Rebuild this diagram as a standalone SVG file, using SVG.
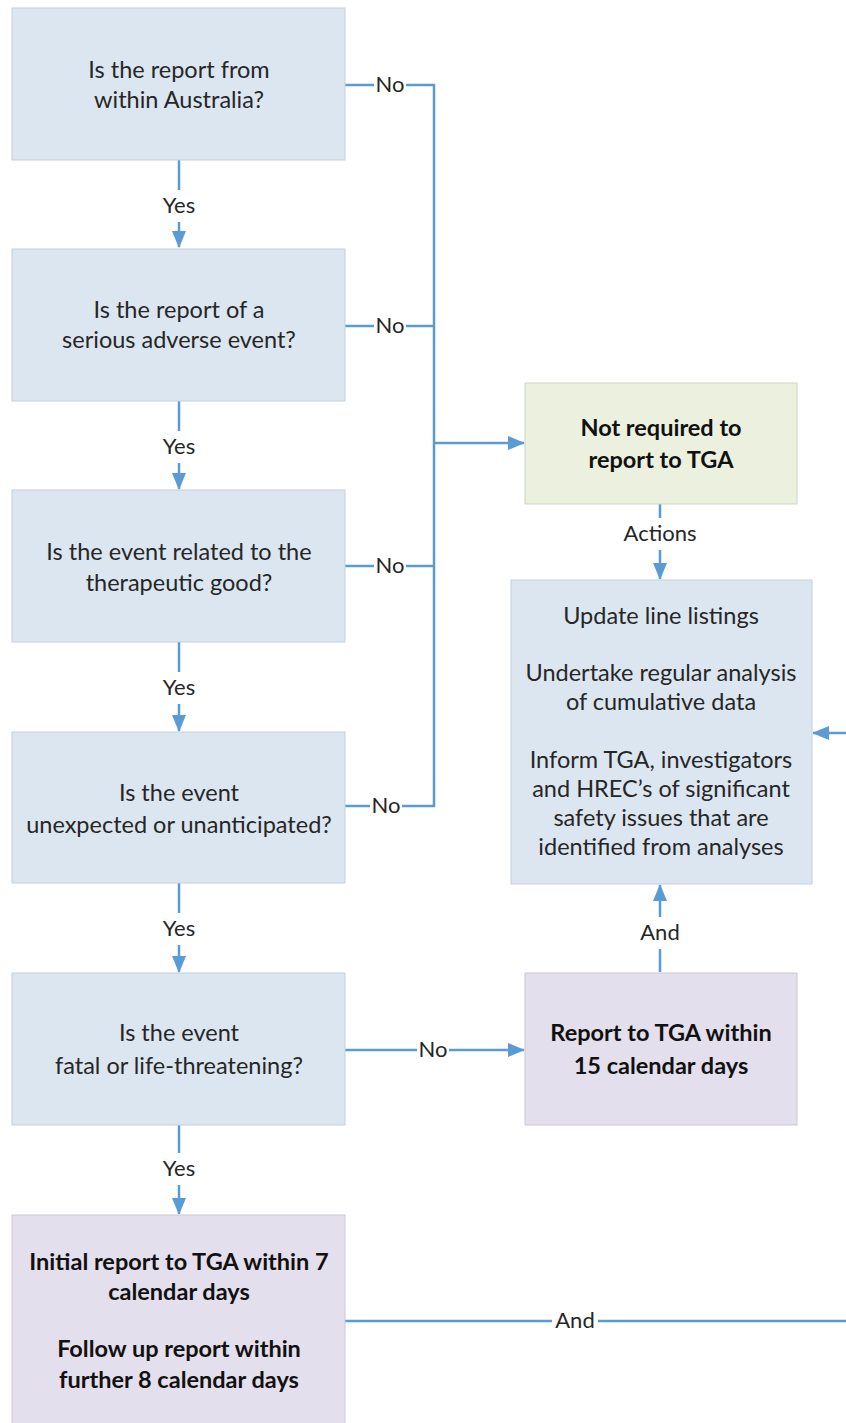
<svg xmlns="http://www.w3.org/2000/svg" width="846" height="1423" viewBox="0 0 846 1423">
<style>
.q{fill:#dce6f1;stroke:#c5d0dc;stroke-width:1}
.g{fill:#ebf1de;stroke:#cdd5c0;stroke-width:1}
.p{fill:#e4dfec;stroke:#cbc6d6;stroke-width:1}
text{font-family:Lato,"Open Sans","Liberation Sans",sans-serif;font-size:23.5px;fill:#262626;text-anchor:middle}
.b{font-weight:bold;fill:#111}
.c{fill:none;stroke:#5b9bd5;stroke-width:2.5}
.lb{fill:#fff}
.l{font-size:22px}
</style>
<defs>
<marker id="ah" markerUnits="userSpaceOnUse" markerWidth="18" markerHeight="16" refX="16" refY="8" orient="auto">
<path d="M0,1 L17,8 L0,15 Z" fill="#5b9bd5"/>
</marker>
</defs>
<g id="connectors">
<path class="c" d="M179,160 V247" marker-end="url(#ah)"/>
<path class="c" d="M179,401 V489" marker-end="url(#ah)"/>
<path class="c" d="M179,642 V731" marker-end="url(#ah)"/>
<path class="c" d="M179,883 V972" marker-end="url(#ah)"/>
<path class="c" d="M179,1125 V1214" marker-end="url(#ah)"/>
<path class="c" d="M345,85 H434 V806 H345"/>
<path class="c" d="M345,326 H434"/>
<path class="c" d="M345,566 H434"/>
<path class="c" d="M434,443 H524" marker-end="url(#ah)"/>
<path class="c" d="M345,1050 H524" marker-end="url(#ah)"/>
<path class="c" d="M660,504 V579" marker-end="url(#ah)"/>
<path class="c" d="M660,972 V885" marker-end="url(#ah)"/>
<path class="c" d="M345,1321 H846"/>
<path class="c" d="M846,733 H813" marker-end="url(#ah)"/>
<rect class="lb" x="159" y="190" width="40" height="32"/>
<text class="l" x="179" y="213">Yes</text>
<rect class="lb" x="159" y="431" width="40" height="32"/>
<text class="l" x="179" y="454">Yes</text>
<rect class="lb" x="159" y="672" width="40" height="32"/>
<text class="l" x="179" y="695">Yes</text>
<rect class="lb" x="159" y="913" width="40" height="32"/>
<text class="l" x="179" y="936">Yes</text>
<rect class="lb" x="159" y="1153" width="40" height="32"/>
<text class="l" x="179" y="1176">Yes</text>
<rect class="lb" x="374" y="70" width="32" height="30"/>
<text class="l" x="390" y="92">No</text>
<rect class="lb" x="374" y="311" width="32" height="30"/>
<text class="l" x="390" y="333">No</text>
<rect class="lb" x="374" y="551" width="32" height="30"/>
<text class="l" x="390" y="573">No</text>
<rect class="lb" x="370" y="791" width="32" height="30"/>
<text class="l" x="386" y="813">No</text>
<rect class="lb" x="417" y="1035" width="32" height="30"/>
<text class="l" x="433" y="1057">No</text>
<rect class="lb" x="618" y="518" width="84" height="32"/>
<text class="l" x="660" y="541">Actions</text>
<rect class="lb" x="638" y="917" width="44" height="32"/>
<text class="l" x="660" y="940">And</text>
<rect class="lb" x="552" y="1306" width="46" height="30"/>
<text class="l" x="575" y="1328">And</text>
</g>
<g id="q1"><rect class="q" x="12" y="8" width="333" height="152"/>
<text x="179" y="78">Is the report from</text><text x="179" y="108">within Australia?</text></g>
<g id="q2"><rect class="q" x="12" y="249" width="333" height="152"/>
<text x="179" y="318">Is the report of a</text><text x="179" y="348">serious adverse event?</text></g>
<g id="q3"><rect class="q" x="12" y="490" width="333" height="152"/>
<text x="179" y="560">Is the event related to the</text><text x="179" y="591">therapeutic good?</text></g>
<g id="q4"><rect class="q" x="12" y="732" width="333" height="151"/>
<text x="179" y="801">Is the event</text><text x="179" y="833">unexpected or unanticipated?</text></g>
<g id="q5"><rect class="q" x="12" y="973" width="333" height="152"/>
<text x="179" y="1041">Is the event</text><text x="179" y="1074">fatal or life-threatening?</text></g>
<g id="r7"><rect class="p" x="12" y="1215" width="333" height="215"/>
<text class="b" x="179" y="1270">Initial report to TGA within 7</text><text class="b" x="179" y="1300">calendar days</text>
<text class="b" x="179" y="1357">Follow up report within</text><text class="b" x="179" y="1388">further 8 calendar days</text></g>
<g id="notreq"><rect class="g" x="525" y="383" width="272" height="121"/>
<text class="b" x="661" y="436">Not required to</text><text class="b" x="661" y="468">report to TGA</text></g>
<g id="actions"><rect class="q" x="511" y="580" width="301" height="304"/>
<text x="661" y="624">Update line listings</text>
<text x="661" y="681">Undertake regular analysis</text><text x="661" y="710">of cumulative data</text>
<text x="661" y="768">Inform TGA, investigators</text><text x="661" y="797">and HREC’s of significant</text>
<text x="661" y="826">safety issues that are</text><text x="661" y="855">identified from analyses</text></g>
<g id="r15"><rect class="p" x="525" y="973" width="272" height="152"/>
<text class="b" x="661" y="1041">Report to TGA within</text><text class="b" x="661" y="1074">15 calendar days</text></g>
</svg>
